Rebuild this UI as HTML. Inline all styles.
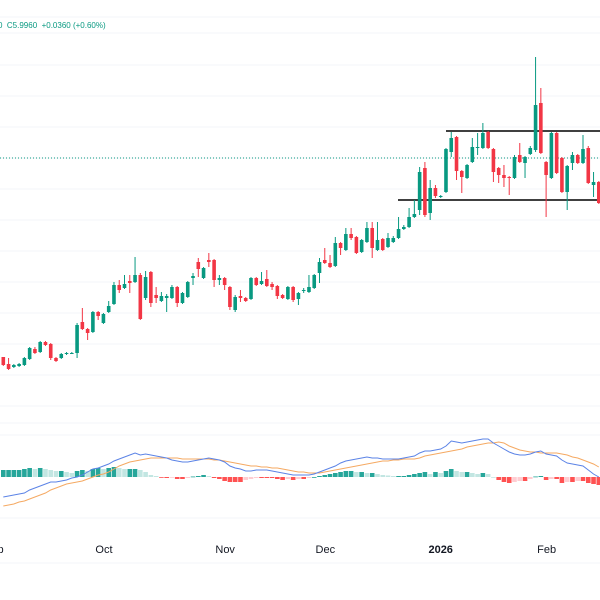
<!DOCTYPE html>
<html><head><meta charset="utf-8"><style>
html,body{margin:0;padding:0;background:#fff;width:600px;height:600px;overflow:hidden}
svg{display:block;font-family:"Liberation Sans",sans-serif}
</style></head><body>
<svg id="chart" width="600" height="600" viewBox="0 0 600 600" xmlns="http://www.w3.org/2000/svg">
<g id="grid"></g>
<g id="levels"></g>
<g id="candles"></g>
<g id="macd"></g>
<g id="xaxis"></g>
<text x="-2" y="28" font-size="8" fill="#089981">0 &#160;C5.9960 &#160;+0.0360 (+0.60%)</text>
</svg>
<script>
const opens=[4.43,4.36,4.33,4.34,4.35,4.41,4.51,4.48,4.58,4.56,4.42,4.42,4.46,4.47,4.47,4.78,4.71,4.68,4.88,4.77,4.88,4.96,5.15,5.12,5.19,5.18,5.25,5.02,5.28,5.05,4.99,5.02,5.02,5.13,4.97,5.03,5.22,5.38,5.22,5.40,5.40,5.20,5.22,5.13,4.90,5.04,5.02,5.01,5.22,5.16,5.21,5.16,5.14,5.05,5.01,5.13,5.01,5.09,5.08,5.12,5.27,5.40,5.37,5.34,5.57,5.50,5.66,5.63,5.48,5.58,5.72,5.50,5.61,5.53,5.58,5.62,5.71,5.73,5.83,5.90,6.32,5.87,6.12,6.03,6.08,6.48,6.63,6.29,6.22,6.38,6.52,6.52,6.68,6.51,6.32,6.25,6.23,6.22,6.45,6.37,6.46,6.50,6.97,6.38,6.22,6.67,6.42,6.08,6.37,6.45,6.37,6.52,6.15,6.18];
const highs=[4.43,4.42,4.36,4.37,4.43,4.53,4.53,4.59,4.59,4.57,4.43,4.47,4.48,4.48,4.77,4.92,4.72,4.89,4.89,4.87,4.99,5.18,5.20,5.25,5.25,5.43,5.27,5.29,5.29,5.13,5.08,5.06,5.15,5.14,5.08,5.19,5.27,5.42,5.33,5.47,5.41,5.25,5.23,5.14,5.05,5.10,5.03,5.23,5.23,5.28,5.30,5.18,5.15,5.06,5.14,5.14,5.08,5.12,5.25,5.26,5.42,5.52,5.45,5.63,5.58,5.72,5.72,5.64,5.61,5.78,5.78,5.78,5.62,5.67,5.64,5.83,5.75,5.92,6.00,6.33,6.38,6.20,6.15,6.05,6.52,6.68,6.64,6.30,6.36,6.62,6.67,6.77,6.69,6.52,6.33,6.35,6.24,6.45,6.57,6.44,6.54,7.43,7.12,6.39,6.68,6.68,6.43,6.35,6.48,6.46,6.65,6.54,6.28,6.19];
const lows=[4.34,4.30,4.32,4.33,4.34,4.40,4.46,4.47,4.54,4.40,4.38,4.41,4.45,4.46,4.42,4.70,4.60,4.67,4.80,4.76,4.87,4.95,5.07,5.11,5.07,5.17,4.80,5.00,4.93,4.97,4.98,4.88,5.01,4.93,4.96,5.02,5.15,5.23,5.21,5.33,5.13,5.15,5.10,4.90,4.88,4.98,4.98,5.00,5.14,5.15,5.13,5.10,5.01,5.01,5.00,4.98,4.95,5.07,5.07,5.11,5.17,5.36,5.32,5.33,5.45,5.49,5.60,5.46,5.47,5.57,5.42,5.49,5.49,5.52,5.57,5.61,5.70,5.72,5.82,5.85,5.83,5.80,6.02,6.02,6.07,6.43,6.20,6.07,6.21,6.37,6.45,6.51,6.51,6.18,6.17,6.13,6.05,6.21,6.37,6.22,6.45,6.48,6.46,5.83,6.21,6.26,6.07,5.90,6.30,6.36,6.36,6.16,6.03,5.96];
const closes=[4.35,4.31,4.35,4.36,4.42,4.52,4.47,4.58,4.55,4.42,4.39,4.46,4.47,4.47,4.75,4.71,4.67,4.88,4.84,4.86,4.94,5.15,5.10,5.16,5.17,5.25,4.81,5.23,4.97,5.02,5.04,5.04,5.13,4.97,5.07,5.18,5.24,5.31,5.32,5.38,5.20,5.22,5.15,4.93,5.03,5.02,4.99,5.22,5.15,5.19,5.14,5.13,5.04,5.02,5.13,5.00,5.07,5.10,5.13,5.25,5.38,5.37,5.33,5.57,5.52,5.66,5.62,5.47,5.60,5.72,5.52,5.60,5.50,5.62,5.62,5.71,5.73,5.83,5.86,6.28,5.85,6.12,6.04,6.04,6.51,6.62,6.29,6.23,6.35,6.53,6.53,6.67,6.52,6.28,6.25,6.22,6.22,6.43,6.38,6.43,6.52,6.95,6.47,6.25,6.67,6.27,6.08,6.34,6.45,6.37,6.51,6.17,6.18,5.97];
const macdLine=[-0.20,-0.19,-0.18,-0.17,-0.16,-0.13,-0.11,-0.09,-0.07,-0.05,-0.05,-0.04,-0.03,-0.01,0.00,0.02,0.05,0.08,0.09,0.11,0.13,0.16,0.18,0.20,0.22,0.24,0.22,0.23,0.22,0.21,0.20,0.19,0.17,0.16,0.15,0.15,0.16,0.17,0.18,0.19,0.18,0.17,0.15,0.11,0.09,0.08,0.06,0.06,0.07,0.07,0.07,0.06,0.05,0.04,0.03,0.02,0.02,0.02,0.02,0.03,0.05,0.07,0.09,0.11,0.14,0.16,0.17,0.18,0.19,0.20,0.19,0.19,0.18,0.18,0.18,0.18,0.19,0.20,0.21,0.24,0.26,0.26,0.27,0.28,0.31,0.36,0.35,0.34,0.35,0.36,0.37,0.38,0.38,0.34,0.31,0.28,0.25,0.23,0.22,0.22,0.23,0.25,0.26,0.23,0.22,0.21,0.17,0.14,0.13,0.12,0.11,0.07,0.03,0.00];
const signalLine=[-0.29,-0.28,-0.27,-0.25,-0.24,-0.22,-0.20,-0.18,-0.16,-0.13,-0.11,-0.09,-0.07,-0.06,-0.05,-0.04,-0.02,0.00,0.02,0.03,0.05,0.08,0.11,0.13,0.15,0.16,0.17,0.18,0.19,0.19,0.19,0.19,0.19,0.19,0.18,0.18,0.18,0.18,0.18,0.18,0.17,0.17,0.16,0.15,0.14,0.13,0.12,0.11,0.11,0.10,0.10,0.09,0.09,0.08,0.07,0.06,0.05,0.05,0.04,0.04,0.04,0.05,0.06,0.07,0.08,0.09,0.10,0.11,0.12,0.13,0.14,0.15,0.16,0.16,0.17,0.17,0.18,0.18,0.18,0.19,0.21,0.22,0.23,0.24,0.25,0.26,0.27,0.28,0.30,0.31,0.32,0.33,0.34,0.34,0.35,0.34,0.31,0.29,0.27,0.26,0.25,0.25,0.24,0.24,0.24,0.24,0.23,0.22,0.20,0.19,0.17,0.15,0.13,0.10];
const histogram=[0.07,0.07,0.07,0.07,0.08,0.09,0.08,0.09,0.08,0.07,0.06,0.06,0.05,0.04,0.06,0.07,0.06,0.08,0.09,0.08,0.09,0.10,0.09,0.08,0.08,0.08,0.07,0.05,0.02,0.01,-0.005,-0.01,-0.005,-0.02,-0.02,-0.01,0.005,0.01,0.02,0.01,-0.01,-0.02,-0.04,-0.05,-0.05,-0.05,-0.03,-0.02,-0.01,-0.01,-0.01,-0.01,-0.02,-0.03,-0.02,-0.03,-0.02,-0.02,-0.01,0.00,0.01,0.02,0.03,0.04,0.05,0.06,0.06,0.05,0.05,0.04,0.04,0.03,0.02,0.015,0.01,0.01,0.01,0.02,0.03,0.04,0.05,0.03,0.05,0.04,0.06,0.08,0.06,0.05,0.05,0.04,0.03,0.04,0.03,0.00,-0.03,-0.05,-0.06,-0.05,-0.04,-0.04,-0.02,0.005,0.01,-0.03,-0.02,-0.02,-0.06,-0.05,-0.05,-0.04,-0.04,-0.06,-0.07,-0.08];
const levelTop=6.69, levelBottom=6.00, lastPrice=6.42;
const timeLabels=["Sep","Oct","Nov","Dec","2026","Feb"];
const timeLabelIdx=[-1.8,19.1,42.1,61.1,83.0,103.1];

const NS="http://www.w3.org/2000/svg";
const xOf=i=>3.3+5.27*i;
const yP=p=>800-p*100;
const yM=m=>477-m*100;
function mk(tag,attrs,parent){const e=document.createElementNS(NS,tag);for(const k in attrs)e.setAttribute(k,attrs[k]);parent.appendChild(e);return e;}

const grid=document.getElementById('grid');
for(let k=0;k<12;k++){const y=65+31*k;
 const l=mk('line',{x1:0,x2:600,y1:y,y2:y,stroke:'#f3f5f9','stroke-width':1},grid);
 
 }
[17,33,423,435,518,563].forEach(y=>{
 const l=mk('line',{x1:0,x2:600,y1:y,y2:y,stroke:'#f3f5f9','stroke-width':1},grid);
 
 });
const pl=mk('line',{x1:0,x2:600,y1:yP(lastPrice),y2:yP(lastPrice),stroke:'#089981','stroke-width':1,'stroke-dasharray':'1 2'},grid);



const lv=document.getElementById('levels');
const lt=mk('line',{x1:446,x2:600,y1:yP(levelTop),y2:yP(levelTop),stroke:'#000','stroke-width':1.6},lv);


const lb=mk('line',{x1:398,x2:600,y1:yP(levelBottom),y2:yP(levelBottom),stroke:'#000','stroke-width':1.6},lv);



const cg=document.getElementById('candles');
for(let i=0;i<opens.length;i++){
 const up=closes[i]>=opens[i];const col=up?'#089981':'#f23645';const x=xOf(i);
 const g=mk('g',{},cg);
 
 
 mk('line',{x1:x,x2:x,y1:yP(highs[i]),y2:yP(lows[i]),stroke:col,'stroke-width':1},g);
 const t=yP(Math.max(opens[i],closes[i])),b=yP(Math.min(opens[i],closes[i]));
 mk('rect',{x:x-1.8,y:t,width:3.6,height:Math.max(1,b-t),fill:col},g);
}

const mg=document.getElementById('macd');
for(let i=0;i<histogram.length;i++){
 const v=histogram[i],prev=i>0?histogram[i-1]:v;let col;
 if(v>=0)col=v>=prev?'#26a69a':'#c2e6e2';else col=v<=prev?'#ff5252':'#ffcdd2';
 const y0=yM(0),y1=yM(v);
 const r=mk('rect',{x:xOf(i)-2.3,y:Math.min(y0,y1),width:4.6,height:Math.max(0.8,Math.abs(y1-y0)),fill:col},mg);
 
 
}
function path(arr){return arr.map((v,i)=>(i?'L':'M')+xOf(i).toFixed(1)+','+yM(v).toFixed(1)).join('');}
const sp=mk('path',{d:path(signalLine),fill:'none',stroke:'#f5a962','stroke-width':1},mg);


const mp=mk('path',{d:path(macdLine),fill:'none',stroke:'#5b83e6','stroke-width':1},mg);



const xa=document.getElementById('xaxis');
timeLabels.forEach((s,k)=>{
 const t=mk('text',{x:xOf(timeLabelIdx[k]),y:553,'text-anchor':'middle','font-size':11,fill:'#131722'},xa);
 t.textContent=s;
 
 
 if(s==='2026')t.setAttribute('font-weight','bold');
});
</script>
</body></html>
